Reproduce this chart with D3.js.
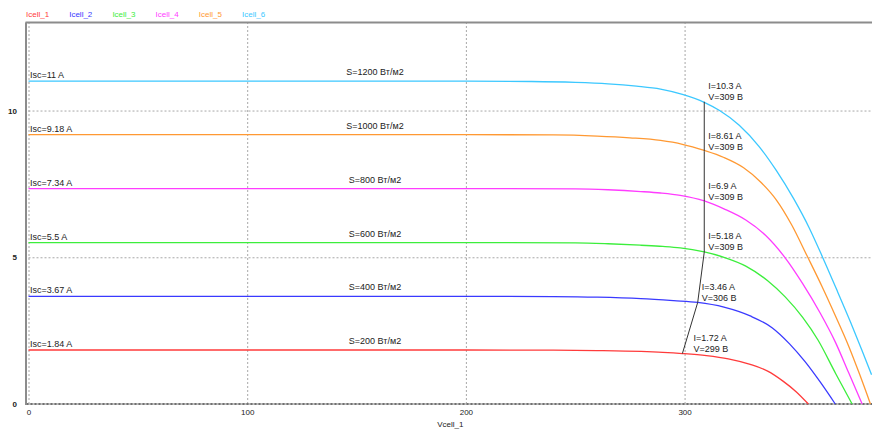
<!DOCTYPE html>
<html>
<head>
<meta charset="utf-8">
<script src="https://cdn.jsdelivr.net/npm/d3@7/dist/d3.min.js"></script>
<style>
  html, body { margin: 0; padding: 0; background: #fff; }
  svg { display: block; font-family: "Liberation Sans", Arial, sans-serif; }
  .tick text { fill: #222; }
</style>
</head>
<body>
<svg id="chart" width="872" height="430"></svg>
<script>
// I-V characteristics of a PV module at several irradiance levels
const seriesNames = ["Icell_1", "Icell_2", "Icell_3", "Icell_4", "Icell_5", "Icell_6"];
const seriesColors = ["#ff3b3b", "#3a3aff", "#3cee3c", "#ff3cff", "#ff9933", "#3cc8ff"];
const irradiance = [200, 400, 600, 800, 1000, 1200];
const iscValues = [1.84, 3.67, 5.5, 7.34, 9.18, 11];

// Voltage (V) and current (A) samples of each curve
const v1 = [0, 100, 200, 240, 260, 280, 290, 299, 310, 320, 330, 338, 345, 351, 356.6];
const i1 = [1.84, 1.84, 1.84, 1.835, 1.82, 1.79, 1.76, 1.72, 1.65, 1.54, 1.35, 1.12, 0.78, 0.42, 0];
const v2 = [0, 100, 200, 240, 260, 280, 295, 306, 318, 330, 340, 348, 355, 362, 368.9];
const i2 = [3.67, 3.67, 3.67, 3.66, 3.64, 3.59, 3.52, 3.46, 3.3, 3.0, 2.6, 2.05, 1.45, 0.75, 0];
const v3 = [0, 100, 200, 250, 265, 280, 290, 298, 309, 318, 328, 338, 346, 354, 361, 369, 376.6];
const i3 = [5.5, 5.5, 5.5, 5.49, 5.46, 5.41, 5.37, 5.32, 5.18, 5.0, 4.7, 4.2, 3.65, 2.95, 2.18, 1.05, 0];
const v4 = [0, 100, 200, 250, 265, 280, 289, 298, 309, 318, 328, 337, 346, 354, 362, 369, 375, 381.2];
const i4 = [7.34, 7.34, 7.34, 7.33, 7.3, 7.24, 7.19, 7.11, 6.92, 6.65, 6.27, 5.75, 4.98, 4.1, 3.1, 2.1, 1.07, 0];
const v5 = [0, 100, 200, 240, 260, 275, 289, 299, 309, 318, 327, 335, 342, 349, 356, 363, 369, 375, 380, 385];
const i5 = [9.18, 9.18, 9.18, 9.17, 9.13, 9.07, 8.98, 8.85, 8.64, 8.4, 8.05, 7.55, 6.95, 6.1, 5.05, 3.98, 3.0, 1.98, 1.02, 0];
const v6 = [0, 100, 200, 230, 250, 265, 278, 289, 299, 309, 316, 325, 334, 342, 350, 357, 363, 370, 376, 381, 385.5];
const i6 = [11, 11, 11, 10.99, 10.96, 10.91, 10.83, 10.73, 10.55, 10.28, 10.0, 9.5, 8.78, 7.95, 6.98, 6.0, 5.02, 3.82, 2.77, 1.85, 1.0];

// Maximum power points
const mppV = [299, 306, 309, 309, 309, 309];
const mppI = [1.72, 3.46, 5.18, 6.9, 8.61, 10.3];

const xTicks = [0, 100, 200, 300];
const yTicks = [0, 5, 10];

const voltages = [v1, v2, v3, v4, v5, v6];
const currents = [i1, i2, i3, i4, i5, i6];

const svg = d3.select("#chart");
const plotLeft = 28.5, plotRight = 872, plotTop = 22.5, plotBottom = 404;

const x = d3.scaleLinear().domain([0, 385.7]).range([plotLeft, plotRight]);
const y = d3.scaleLinear().domain([0, 13]).range([plotBottom, plotTop]);

svg.append("defs").append("clipPath").attr("id", "plot")
  .append("rect").attr("x", plotLeft - 2).attr("y", plotTop - 1)
  .attr("width", plotRight - plotLeft + 2).attr("height", plotBottom - plotTop + 2);

// Grid
svg.append("g")
  .attr("transform", `translate(0,${plotBottom})`)
  .call(d3.axisBottom(x).tickValues(xTicks).tickSize(-(plotBottom - plotTop)).tickFormat(""))
  .call(g => g.select(".domain").remove())
  .call(g => g.selectAll("line").attr("stroke", "#a8a8a8").attr("stroke-dasharray", "2,2"));
svg.append("g")
  .attr("transform", `translate(${plotLeft},0)`)
  .call(d3.axisLeft(y).tickValues(yTicks.filter(t => t > 0)).tickSize(-(plotRight - plotLeft)).tickFormat(""))
  .call(g => g.select(".domain").remove())
  .call(g => g.selectAll("line").attr("stroke", "#a8a8a8").attr("stroke-dasharray", "2,2"));

// Frame: solid top and left edges, dashed zero line
svg.append("line").attr("x1", plotLeft - 3).attr("x2", plotRight).attr("y1", plotTop).attr("y2", plotTop)
  .attr("stroke", "#8c8c8c").attr("stroke-width", 2);
svg.append("line").attr("x1", plotLeft - 2.5).attr("x2", plotLeft - 2.5).attr("y1", plotTop).attr("y2", plotBottom + 1)
  .attr("stroke", "#8c8c8c").attr("stroke-width", 2);
svg.append("line").attr("x1", plotLeft - 2).attr("x2", plotRight).attr("y1", y(0)).attr("y2", y(0))
  .attr("stroke", "#c0c0c0").attr("stroke-width", 2);
svg.append("line").attr("x1", plotLeft - 2).attr("x2", plotRight).attr("y1", y(0)).attr("y2", y(0))
  .attr("stroke", "#707070").attr("stroke-width", 2).attr("stroke-dasharray", "2,2");

// Axis labels
svg.append("g")
  .attr("transform", `translate(0,${plotBottom + 4})`)
  .call(d3.axisBottom(x).tickValues(xTicks).tickSize(0).tickPadding(0).tickFormat(d3.format("d")))
  .call(g => g.select(".domain").remove())
  .call(g => g.selectAll("text").attr("font-size", 8).attr("dy", "0.9em")
    .attr("font-family", "\"Liberation Sans\", Arial, sans-serif"));
svg.append("g")
  .attr("transform", `translate(17,0)`)
  .call(d3.axisLeft(y).tickValues(yTicks).tickSize(0).tickPadding(0).tickFormat(d3.format("d")))
  .call(g => g.select(".domain").remove())
  .call(g => g.selectAll("text").attr("font-size", 8).attr("font-weight", "bold")
    .attr("font-family", "\"Liberation Sans\", Arial, sans-serif"));
svg.append("text").attr("x", (plotLeft + plotRight) / 2).attr("y", 427)
  .attr("text-anchor", "middle").attr("font-size", 8).attr("fill", "#222").text("Vcell_1");

// Legend
const legend = svg.append("g");
seriesNames.forEach((name, k) => {
  legend.append("text").attr("x", 26 + k * 43.2).attr("y", 16.5)
    .attr("font-size", 8).attr("fill", seriesColors[k]).text(name);
});

// Curves
const line = d3.line().x(d => x(d[0])).y(d => y(d[1])).curve(d3.curveMonotoneX);
const plot = svg.append("g").attr("clip-path", "url(#plot)");
voltages.forEach((vs, k) => {
  const pts = vs.map((v, j) => [v, currents[k][j]]);
  plot.append("path").datum(pts).attr("d", line)
    .attr("fill", "none").attr("stroke", seriesColors[k]).attr("stroke-width", 1.3);
});

// Maximum power point locus
const mppPts = mppV.map((v, j) => [v, mppI[j]]);
plot.append("path").datum(mppPts)
  .attr("d", d3.line().x(d => x(d[0])).y(d => y(d[1])))
  .attr("fill", "none").attr("stroke", "#333").attr("stroke-width", 1);

// Short-circuit current and irradiance labels
iscValues.forEach((isc, k) => {
  svg.append("text").attr("x", plotLeft + 1.5).attr("y", y(isc) - 3)
    .attr("font-size", 9).attr("fill", "#222").text(`Isc=${isc} A`);
  svg.append("text").attr("x", 375).attr("y", y(isc) - 6)
    .attr("text-anchor", "middle").attr("font-size", 9).attr("fill", "#222")
    .text(`S=${irradiance[k]} Вт/м2`);
});

// Maximum power point labels
mppV.forEach((v, k) => {
  const tx = Math.max(x(v) + 4, x(300) + 9);
  const ty = y(mppI[k]);
  svg.append("text").attr("x", tx).attr("y", ty - 12.5)
    .attr("font-size", 9).attr("fill", "#222").text(`I=${mppI[k]} A`);
  svg.append("text").attr("x", tx).attr("y", ty - 1.5)
    .attr("font-size", 9).attr("fill", "#222").text(`V=${v} В`);
});
</script>
</body>
</html>
